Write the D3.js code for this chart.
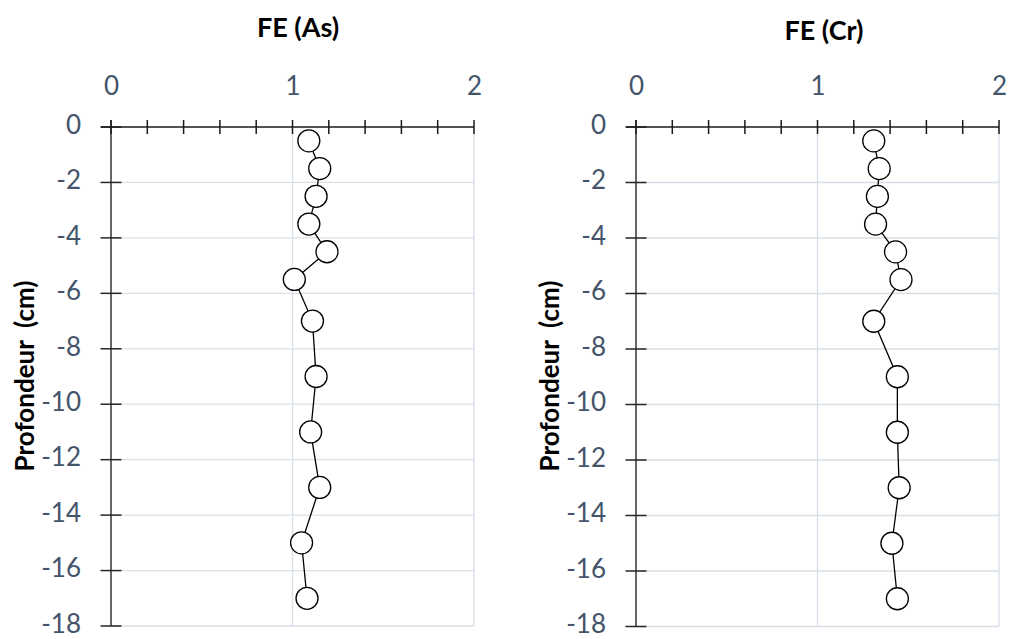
<!DOCTYPE html>
<html><head><meta charset="utf-8">
<script src="https://cdn.jsdelivr.net/npm/d3@7"></script>
<style>body{margin:0;background:#fff}svg{display:block}</style>
</head><body>
<svg id="c" width="1011" height="639"></svg>
<script>
const depths = [-0.5,-1.5,-2.5,-3.5,-4.5,-5.5,-7,-9,-11,-13,-15,-17];
const feAs = [1.09,1.15,1.13,1.09,1.19,1.01,1.11,1.13,1.10,1.15,1.05,1.08];
const feCr = [1.31,1.34,1.33,1.32,1.43,1.46,1.31,1.44,1.44,1.45,1.41,1.44];
const xTicks = [0,1,2];
const yTicks = [0,-2,-4,-6,-8,-10,-12,-14,-16,-18];
const titles = ["FE (As)","FE (Cr)"];
const yLabel = "Profondeur  (cm)";

const svg = d3.select("#c");
const FONT = "Lato, 'Open Sans', sans-serif";
const panels = [
  {x0:111, x1:474, y0:127, y1:626, vals:feAs, title:titles[0], tx:298, ty:37, lx:24},
  {x0:636, x1:999, y0:127, y1:626.5, vals:feCr, title:titles[1], tx:824, ty:40, lx:549}
];
panels.forEach(p=>{
  const x = d3.scaleLinear().domain([0,2]).range([p.x0,p.x1]);
  const y = d3.scaleLinear().domain([0,-18]).range([p.y0,p.y1]);
  const g = svg.append("g");
  // gridlines
  g.selectAll(".hg").data(yTicks.filter(d=>d!==0)).join("line")
    .attr("x1",x(0)).attr("x2",x(2)).attr("y1",d=>y(d)).attr("y2",d=>y(d))
    .attr("stroke","#d9dfe8").attr("stroke-width",1.3);
  g.selectAll(".vg").data(xTicks.filter(d=>d!==0)).join("line")
    .attr("x1",d=>x(d)).attr("x2",d=>x(d)).attr("y1",y(0)).attr("y2",y(-18))
    .attr("stroke","#d9dfe8").attr("stroke-width",1.3);
  // y axis
  const ya = d3.axisLeft(y).tickValues(yTicks).tickSize(0).tickPadding(0).tickFormat(d=>d===0?"0":"-"+Math.abs(d));
  const yg = g.append("g").attr("transform",`translate(${x(0)},0)`).call(ya);
  yg.select(".domain").remove();
  yg.selectAll(".tick line").remove();
  yg.selectAll(".tick text").attr("x",-30).attr("dy","0.24em")
    .attr("fill","#44546a").style("font-family",FONT).style("font-size","26px");
  g.append("line").attr("x1",x(0)).attr("x2",x(0)).attr("y1",y(0)-7).attr("y2",y(-18))
    .attr("stroke","#404040").attr("stroke-width",1.6);
  g.selectAll(".yt").data(yTicks).join("line")
    .attr("x1",x(0)-10.5).attr("x2",x(0)+10.5).attr("y1",d=>y(d)).attr("y2",d=>y(d))
    .attr("stroke","#262626").attr("stroke-width",1.5);
  // x axis (top)
  const xa = d3.axisTop(x).tickValues(xTicks).tickSize(0).tickPadding(0).tickFormat(d3.format("d"));
  const xg = g.append("g").attr("transform",`translate(0,${y(0)})`).call(xa);
  xg.select(".domain").remove();
  xg.selectAll(".tick text").attr("y",-32)
    .attr("fill","#44546a").style("font-family",FONT).style("font-size","26px");
  g.append("line").attr("x1",x(0)-10).attr("x2",x(2)).attr("y1",y(0)).attr("y2",y(0))
    .attr("stroke","#1a1a1a").attr("stroke-width",1.5);
  g.selectAll(".xt").data(d3.range(0,11).map(i=>i*0.2)).join("line")
    .attr("x1",d=>x(d)).attr("x2",d=>x(d)).attr("y1",y(0)-7).attr("y2",y(0)+7)
    .attr("stroke","#1a1a1a").attr("stroke-width",1.5);
  // title
  g.append("text").attr("x",p.tx).attr("y",p.ty).attr("text-anchor","middle")
    .style("font-family",FONT).style("font-weight","bold").style("font-size","27px")
    .attr("fill","#000").text(p.title);
  // y label
  g.append("text").attr("transform",`translate(${p.lx+10},376) rotate(-90)`)
    .attr("text-anchor","middle").style("font-family",FONT).style("font-weight","bold")
    .style("font-size","26px").attr("fill","#000").style("white-space","pre")
    .attr("xml:space","preserve").text(yLabel);
  // line + markers
  const pts = depths.map((d,i)=>({x:p.vals[i], y:d}));
  g.append("path").datum(pts)
    .attr("d", d3.line().x(d=>x(d.x)).y(d=>y(d.y)))
    .attr("fill","none").attr("stroke","#000").attr("stroke-width",1.3);
  g.selectAll(".pt").data(pts).join("circle")
    .attr("cx",d=>x(d.x)).attr("cy",d=>y(d.y)).attr("r",11)
    .attr("fill","#fff").attr("stroke","#000").attr("stroke-width",1.3);
});
</script>
</body></html>
